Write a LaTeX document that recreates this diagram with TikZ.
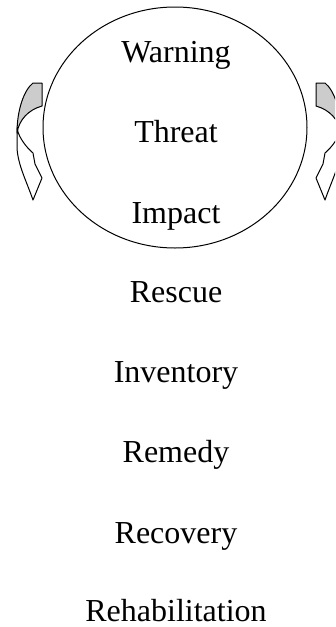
\documentclass[tikz,border=0pt]{standalone}
\usepackage{fontspec}
\setmainfont{Liberation Serif}
\usetikzlibrary{shapes.geometric}
\definecolor{backfold}{gray}{0.8}
% bent arrow beside the circle, drawn on the left side
\newcommand{\bentarrow}{%
  \draw[fill=white] (17,128) -- (17,148) .. controls (18,165) and (26,180) .. (33,200) -- (42,178) -- (35,164) -- (33,153) .. controls (25,146) and (20,138) .. (18,132) -- cycle;
  \draw[fill=backfold] (33,83) -- (42,83) -- (42,106) .. controls (28,110) and (19,120) .. (17,133) .. controls (17,110) and (24,90) .. (33,83) -- cycle;
}
\tikzset{stage/.style={anchor=base,inner sep=1pt,font=\fontsize{32}{38}\selectfont}}
\begin{document}
\begin{tikzpicture}[x=1pt,y=-1pt,line width=1pt,line join=round]
	\useasboundingbox (0,0) rectangle (335,627);
	\clip (0,0) rectangle (335,627);
	\node[draw,ellipse,inner sep=0pt,minimum width=264,minimum height=241] (cycle) at (175,127.5) {};
	\node[stage] (warning) at (176,62) {Warning};
	\node[stage] (threat) at (176,142) {Threat};
	\node[stage] (impact) at (176,223) {Impact};
	\node[stage] (rescue) at (176,302) {Rescue};
	\node[stage] (inventory) at (176,382) {Inventory};
	\node[stage] (remedy) at (176,462) {Remedy};
	\node[stage] (recovery) at (176,543) {Recovery};
	\node[stage] (rehab) at (176,621) {Rehabilitation};
	% the two bent arrows
	\begin{scope}
		\bentarrow
	\end{scope}
	\begin{scope}[shift={(358,0)},xscale=-1]
		\bentarrow
	\end{scope}
\end{tikzpicture}
\end{document}
